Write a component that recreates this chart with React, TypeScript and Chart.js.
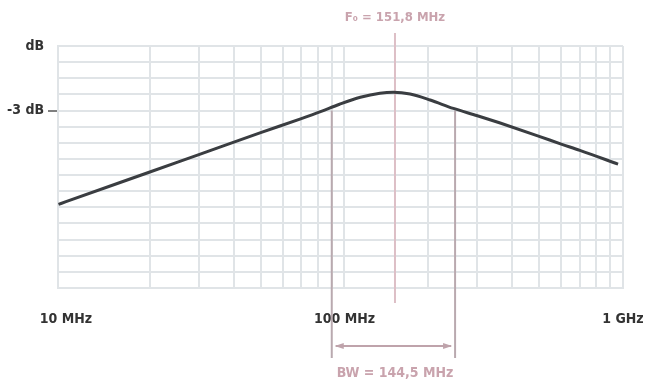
import React, { useEffect, useRef } from "react";
import { Chart, registerables } from "chart.js";

Chart.register(...registerables);

// Frequency response (MHz, dB units of the grid)
const FREQ = [9.4, 10, 20, 30, 50, 70, 82, 96, 114, 134, 150, 172, 203, 246, 300, 360, 500, 600, 700, 960];
const GAIN = [-8.82, -8.65, -6.81, -5.73, -4.37, -3.5, -3.07, -2.61, -2.18, -1.93, -1.87, -1.98, -2.35, -2.87, -3.32, -3.76, -4.6, -5.08, -5.47, -6.32];

const X_GRID = [10, 20, 30, 40, 50, 60, 70, 80, 90, 100, 200, 300, 400, 500, 600, 700, 800, 900, 1000];
const X_LABELS: Record<number, string> = { 10: "10 MHz", 100: "100 MHz", 1000: "1 GHz" };
const Y_GRID = [1, 0, -1, -2, -3, -4, -5, -6, -7, -8, -9, -10, -11, -12, -13, -14];
const Y_LABELS: Record<number, string> = { 1: "dB", [-3]: "-3 dB" };

const F0 = 151.8;
const BW_LOW = 90;
const BW_HIGH = 249.5;
const F0_TEXT = "F\u2080 = 151,8 MHz";
const BW_TEXT = "BW = 144,5 MHz";

const FONT = "'Liberation Sans Narrow', 'DejaVu Sans Condensed', 'Roboto', sans-serif";
const GRID_COLOR = "#e0e4e7";
const PINK = "#c9a3ad";
const MAUVE = "#b9a9af";

const annotations = {
  id: "annotations",
  beforeDatasetsDraw(chart: any) {
    const { ctx, scales } = chart;
    const x = scales.x;
    const y = scales.y;
    ctx.save();
    const xf = x.getPixelForValue(F0);
    ctx.strokeStyle = "#ddbfc6";
    ctx.lineWidth = 2;
    ctx.beginPath();
    ctx.moveTo(xf, 33);
    ctx.lineTo(xf, 303);
    ctx.stroke();
    const y3 = y.getPixelForValue(-3);
    ctx.strokeStyle = MAUVE;
    ctx.lineWidth = 2;
    [BW_LOW, BW_HIGH].forEach((f) => {
      const xp = x.getPixelForValue(f);
      ctx.beginPath();
      ctx.moveTo(xp, y3);
      ctx.lineTo(xp, 358);
      ctx.stroke();
    });
    ctx.restore();
  },
  afterDraw(chart: any) {
    const { ctx, scales } = chart;
    const x = scales.x;
    const xf = x.getPixelForValue(F0);
    const xl = x.getPixelForValue(BW_LOW);
    const xh = x.getPixelForValue(BW_HIGH);
    ctx.save();
    const ay = 346;
    ctx.strokeStyle = "#bfa3ab";
    ctx.fillStyle = "#bfa3ab";
    ctx.lineWidth = 2;
    ctx.beginPath();
    ctx.moveTo(xl + 4, ay);
    ctx.lineTo(xh - 4, ay);
    ctx.stroke();
    const head = (tipX: number, dir: number) => {
      ctx.beginPath();
      ctx.moveTo(tipX, ay);
      ctx.lineTo(tipX + dir * 9, ay - 3);
      ctx.lineTo(tipX + dir * 9, ay + 3);
      ctx.closePath();
      ctx.fill();
    };
    head(xl + 3, 1);
    head(xh - 3, -1);
    ctx.textAlign = "center";
    ctx.textBaseline = "middle";
    ctx.fillStyle = PINK;
    ctx.font = `bold 13px ${FONT}`;
    ctx.fillText(F0_TEXT, xf, 18);
    ctx.font = `bold 14px ${FONT}`;
    ctx.fillText(BW_TEXT, xf, 373);
    ctx.restore();
  },
};

export default function App() {
  const ref = useRef<HTMLCanvasElement | null>(null);

  useEffect(() => {
    document.body.style.margin = "0";
    if (!ref.current) return;
    const chart = new Chart(ref.current, {
      type: "line",
      data: {
        datasets: [
          {
            data: FREQ.map((f, i) => ({ x: f, y: GAIN[i] })),
            borderColor: "#3a3d41",
            borderWidth: 3,
            pointRadius: 0,
            cubicInterpolationMode: "monotone",
            fill: false,
          },
        ],
      },
      options: {
        responsive: false,
        animation: false,
        events: [],
        layout: { padding: { top: 46, right: 29, left: 0, bottom: 0 } },
        plugins: { legend: { display: false }, tooltip: { enabled: false } },
        scales: {
          x: {
            type: "logarithmic",
            min: 9.36,
            max: 1000,
            afterBuildTicks: (s: any) => {
              s.ticks = X_GRID.map((v) => ({ value: v }));
            },
            afterFit: (s: any) => {
              s.height = 97;
              s.paddingLeft = 0;
              s.paddingRight = 0;
            },
            ticks: {
              autoSkip: false,
              maxRotation: 0,
              padding: 23,
              color: "#333",
              font: { family: FONT, size: 14, weight: "bold" },
              callback: (v: any) => X_LABELS[v as number] ?? "",
            },
            grid: {
              drawTicks: false,
              lineWidth: 2,
              color: (c: any) => (c.tick && c.tick.value === 10 ? "rgba(0,0,0,0)" : GRID_COLOR),
            },
            border: { color: GRID_COLOR, width: 2 },
          },
          y: {
            type: "linear",
            min: -14,
            max: 1,
            afterBuildTicks: (s: any) => {
              s.ticks = Y_GRID.map((v) => ({ value: v }));
            },
            afterFit: (s: any) => {
              s.width = 58;
              s.paddingTop = 0;
              s.paddingBottom = 0;
            },
            ticks: {
              autoSkip: false,
              padding: 4,
              color: "#333",
              font: { family: FONT, size: 14, weight: "bold" },
              callback: (v: any) => Y_LABELS[v as number] ?? "",
            },
            grid: {
              lineWidth: 2,
              color: GRID_COLOR,
              tickLength: 10,
              tickWidth: 1.5,
              tickColor: (c: any) => (c.tick && c.tick.value === -3 ? "#555" : "rgba(0,0,0,0)"),
            },
            border: { color: GRID_COLOR, width: 2 },
          },
        },
      },
      plugins: [annotations],
    });
    return () => chart.destroy();
  }, []);

  return (
    <div style={{ position: "fixed", left: 0, top: 0, width: 652, height: 385, background: "#fff" }}>
      <canvas ref={ref} width={652} height={385} style={{ display: "block" }} />
    </div>
  );
}
